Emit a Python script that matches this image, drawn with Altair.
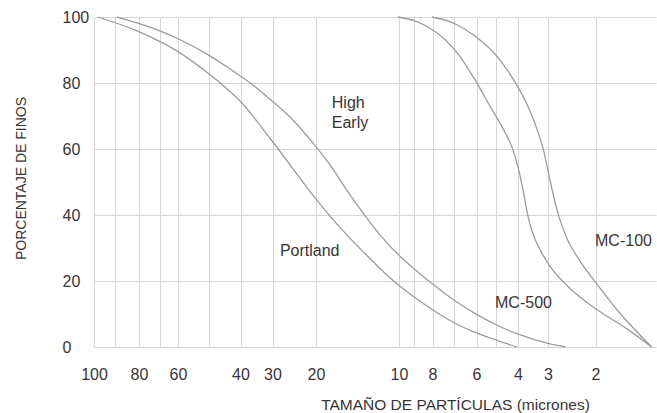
import altair as alt
import pandas as pd

# ---- axis definitions ----
x_grid_um = [100, 90, 80, 70, 60, 50, 40, 30, 20, 10, 9, 8, 7, 6, 5, 4, 3, 2]
x_labeled = [100, 80, 60, 40, 30, 20, 10, 8, 6, 4, 3, 2]
y_ticks = [0, 20, 40, 60, 80, 100]

# irregular (hand-drawn) size axis: gridline values and where they fall across the plot
scale_domain = [100, 90, 80, 70, 60, 50, 40, 30, 20, 10, 9, 8, 7, 6, 5, 4, 3, 2, 1]
scale_range = [0, 21, 45, 66, 84, 114.5, 146.5, 178.5, 222, 305, 320, 338.5, 360,
               382.5, 402, 424, 454, 501.5, 562]

# ---- series (particle size in microns, percent finer) ----
portland_um = [98.1, 80.8, 60, 50.2, 45.5, 40.2, 30.2, 19.9, 17.5, 13.5, 11.1, 8.95,
               7.98, 6.96, 5.97, 4.95, 4.05]
portland_pct = [100, 95.8, 89.5, 83, 79.3, 74.6, 62.5, 44.5, 37.3, 26.8, 21, 15,
                11.2, 7.2, 4.2, 2, 0]

high_um = [89.2, 80.8, 71, 60, 50.2, 40.2, 36.4, 30.2, 25.3, 20.2, 18.3, 16.5,
           14.3, 12.3, 9.93, 8.95, 7.98, 6.96, 5.97, 4.95, 3.97, 2.98, 2.64]
high_pct = [100, 98.2, 96, 93.4, 88.6, 82.2, 79.6, 74.6, 68.8, 61, 55.2, 48.3,
            40.5, 34, 27.5, 23.5, 19, 14, 9.8, 6.6, 3.8, 1, 0]

mc500_um = [10.12, 8.95, 8.14, 7.42, 6.73, 6.07, 5.31, 4.59, 4.27, 4.0, 3.83,
            3.7, 3.57, 3.4, 3.2, 2.96, 2.54, 1.99, 1.48, 1.07]
mc500_pct = [100, 98.8, 96.6, 93.2, 88, 81, 73, 65, 60.5, 54.5, 47.5, 41, 36.2,
             32, 28.4, 24.5, 17.8, 11.5, 5.5, 0]

mc100_um = [8.03, 7.19, 6.51, 5.82, 5.05, 4.45, 3.93, 3.6, 3.33, 3.13, 2.98,
            2.87, 2.79, 2.68, 2.58, 2.43, 2.22, 2.01, 1.6, 1.07]
mc100_pct = [100, 98.6, 96.3, 93, 88.8, 83.6, 77.6, 71.5, 65, 59, 52, 45, 40.5,
             35.8, 32.2, 28.4, 23.8, 19.8, 10.3, 0]

# curve labels
label_text = ["High", "Early", "Portland", "MC-500", "MC-100"]
label_um = [18.1, 18.1, 28.3, 5.05, 2.01]
label_pct = [73.9, 67.9, 29.1, 13.3, 32.1]

rows = []
for name, xs, ys in [("Portland", portland_um, portland_pct),
                     ("High Early", high_um, high_pct),
                     ("MC-500", mc500_um, mc500_pct),
                     ("MC-100", mc100_um, mc100_pct)]:
    for a, b in zip(xs, ys):
        rows.append({"serie": name, "um": a, "pct": b})
df = pd.DataFrame(rows)
labels = pd.DataFrame({"t": label_text, "um": label_um, "pct": label_pct})

FONT = "Liberation Sans"
TXT = "#3a3436"

xscale = alt.Scale(domain=scale_domain, range=scale_range, nice=False, zero=False)
yscale = alt.Scale(domain=[0, 100], nice=False)

label_expr = "indexof([" + ",".join(str(v) for v in x_labeled) + "], datum.value) >= 0 ? datum.label : ''"

x_axis = alt.Axis(values=x_grid_um, tickCount=60, labelExpr=label_expr, grid=True,
                  ticks=False, tickSize=0, domain=False, labelPadding=27,
                  labelBaseline="middle", labelFlush=False, labelOverlap=False,
                  labelFontSize=16, labelFont=FONT, labelColor=TXT,
                  title="TAMAÑO DE PARTÍCULAS (micrones)", titleFont=FONT,
                  titleFontSize=15.5, titleFontWeight="normal", titleColor=TXT,
                  titleX=361, titleY=57, titleBaseline="middle", titleAlign="center")
y_axis = alt.Axis(values=y_ticks, grid=True, ticks=False, tickSize=0, domain=False,
                  labelAlign="left", labelPadding=32, labelFontSize=16, labelFont=FONT,
                  labelFlush=False, labelOverlap=False,
                  labelColor=TXT, title="PORCENTAJE DE FINOS", titleFont=FONT,
                  titleFontSize=14, titleFontWeight="normal", titleColor=TXT,
                  titleX=-73, titleY=161, titleAngle=270, titleAlign="center",
                  titleBaseline="middle")

lines = alt.Chart(df).mark_line(color="#a09a9c", strokeWidth=1.3,
                                interpolate="monotone").encode(
    x=alt.X("um:Q", scale=xscale, axis=x_axis),
    y=alt.Y("pct:Q", scale=yscale, axis=y_axis),
    detail="serie:N",
    order=alt.Order("um:Q", sort="descending"),
)

texts = alt.Chart(labels).mark_text(align="left", baseline="middle", font=FONT,
                                    fontSize=16, color=TXT).encode(
    x=alt.X("um:Q", scale=xscale),
    y=alt.Y("pct:Q", scale=yscale),
    text="t:N",
)

chart = alt.layer(lines, texts).properties(
    width=562, height=330,
    autosize=alt.AutoSizeParams(type="none"),
    padding={"left": 94, "top": 17, "right": 1, "bottom": 66},
    background="white",
).configure_view(stroke=None).configure_axis(
    gridColor="#d6d6d6", gridWidth=1, gridOpacity=1
)

chart.save("out.html", embed_options={"renderer": "svg", "actions": False})
